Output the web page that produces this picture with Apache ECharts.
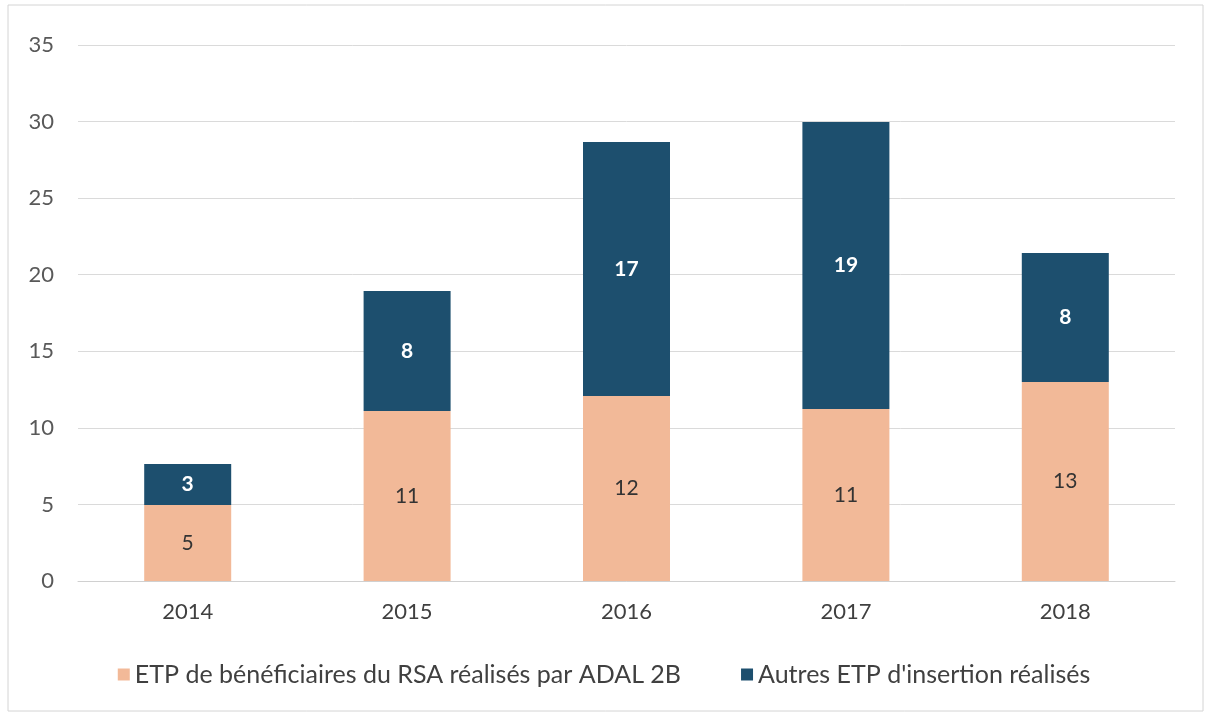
<!DOCTYPE html>
<html>
<head>
    <meta charset="utf-8">
    <title>ETP ADAL 2B</title>
    <style>
        html, body { margin: 0; padding: 0; background: #fff; }
        #main { width: 1208px; height: 715px; }
    </style>
</head>
<body>
<div id="main"></div>
<script src="https://cdn.jsdelivr.net/npm/echarts@6/dist/echarts.min.js"></script>
<script type="text/javascript">
    // données
    var annees = ['2014', '2015', '2016', '2017', '2018'];
    var etpRsa = [4.96, 11.1, 12.08, 11.23, 13.0];
    var etpAutres = [2.68, 7.84, 16.59, 18.75, 8.42];
    var nomRsa = 'ETP de bénéficiaires du RSA réalisés par ADAL 2B';
    var nomAutres = "Autres ETP d'insertion réalisés";

    var police = 'Lato, "Open Sans", sans-serif';
    var myChart = echarts.init(document.getElementById('main'));

    myChart.setOption({
        animation: false,
        textStyle: { fontFamily: police },
        graphic: [{
            type: 'rect',
            shape: { x: 8, y: 5, width: 1195, height: 706 },
            style: { fill: 'none', stroke: '#d4d4d4', lineWidth: 1 }
        }],
        grid: { left: 78, right: 33, top: 45, bottom: 134 },
        legend: {
            top: 657,
            left: 'center',
            itemWidth: 12,
            itemHeight: 12,
            itemGap: 60,
            icon: 'rect',
            textStyle: { fontSize: 25, color: '#404040', fontFamily: police },
            data: [nomRsa, nomAutres]
        },
        xAxis: {
            type: 'category',
            data: annees,
            axisLine: { lineStyle: { color: '#d0d0d0' } },
            axisTick: { show: false },
            axisLabel: { fontSize: 22, color: '#404040', margin: 20 }
        },
        yAxis: {
            type: 'value',
            min: 0,
            max: 35,
            interval: 5,
            axisLine: { show: false },
            axisTick: { show: false },
            axisLabel: { fontSize: 22, color: '#595959', margin: 24 },
            splitLine: { lineStyle: { color: '#dadada' } }
        },
        series: [{
            name: nomRsa,
            type: 'bar',
            stack: 'total',
            barWidth: 87,
            data: etpRsa,
            itemStyle: { color: '#F2B998' },
            label: {
                show: true,
                position: 'inside',
                fontSize: 21,
                color: '#333333',
                formatter: function (p) { return Math.round(p.value); }
            }
        }, {
            name: nomAutres,
            type: 'bar',
            stack: 'total',
            barWidth: 87,
            data: etpAutres,
            itemStyle: { color: '#1D4F6E' },
            label: {
                show: true,
                position: 'inside',
                fontSize: 21,
                fontWeight: 'bold',
                color: '#ffffff',
                formatter: function (p) { return Math.round(p.value); }
            }
        }]
    });
</script>
</body>
</html>
